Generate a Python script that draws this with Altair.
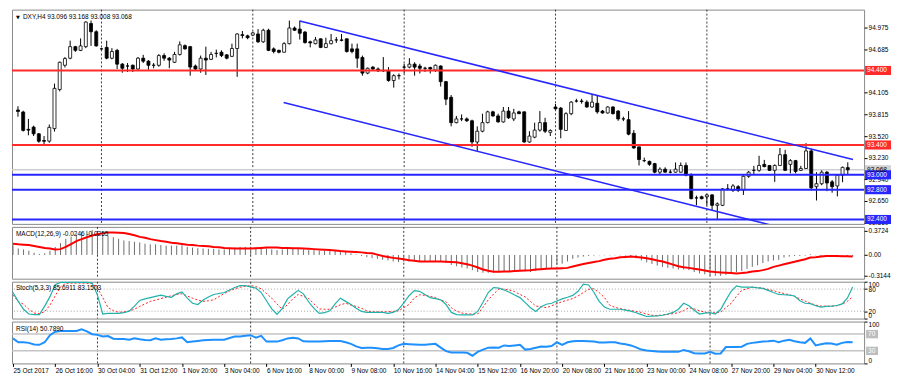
import altair as alt
import pandas as pd

# ---------------- data ----------------
opens = [93.87, 93.843, 93.61, 93.64, 93.55, 93.46, 93.452, 93.62, 94.145, 94.47,
         94.565, 94.72, 94.67, 94.72, 95.03, 94.92, 94.69, 94.71, 94.565, 94.67,
         94.485, 94.46, 94.47, 94.42, 94.565, 94.525, 94.47, 94.47, 94.60, 94.565,
         94.51, 94.615, 94.733, 94.72, 94.46, 94.42, 94.565, 94.55, 94.63, 94.645,
         94.61, 94.59, 94.695, 94.88, 94.865, 94.875, 94.89, 94.785, 94.94, 94.69,
         94.67, 94.645, 94.76, 94.97, 94.955, 94.915, 94.785, 94.76, 94.825, 94.71,
         94.76, 94.81, 94.81, 94.825, 94.69, 94.69, 94.575, 94.365, 94.445, 94.42,
         94.40, 94.395, 94.265, 94.33, 94.445, 94.445, 94.485, 94.46, 94.43, 94.44,
         94.405, 94.46, 94.25, 94.04, 93.70, 93.75, 93.75, 93.725, 93.44, 93.585,
         93.70, 93.845, 93.79, 93.71, 93.855, 93.75, 93.845, 93.845, 93.44, 93.505,
         93.60, 93.70, 93.57, 93.91, 93.895, 93.595, 93.82, 93.99, 93.99, 93.975,
         93.91, 93.96, 93.855, 93.83, 93.91, 93.855, 93.75, 93.74, 93.557, 93.375,
         93.19, 93.18, 93.15, 93.035, 93.075, 93.035, 93.035, 93.035, 93.125, 92.995,
         92.69, 92.705, 92.705, 92.73, 92.59, 92.59, 92.81, 92.79, 92.84, 92.795,
         92.98, 93.06, 93.06, 93.14, 93.125, 93.06, 93.125, 93.27, 93.14, 93.19,
         93.06, 93.085, 93.32, 92.84, 92.88, 93.035, 92.905, 92.85, 92.995, 93.096]
highs = [93.92, 93.86, 93.75, 93.66, 93.56, 93.52, 93.675, 94.224, 94.52, 94.58,
         94.80, 94.73, 94.83, 95.06, 95.07, 94.94, 94.70, 94.80, 94.70, 94.69,
         94.50, 94.50, 94.48, 94.58, 94.61, 94.54, 94.50, 94.62, 94.63, 94.58,
         94.65, 94.79, 94.75, 94.73, 94.48, 94.60, 94.72, 94.65, 94.68, 94.67,
         94.62, 94.76, 94.90, 94.93, 94.88, 94.92, 94.955, 94.96, 94.96, 94.71,
         94.68, 94.78, 95.07, 94.99, 95.07, 94.93, 94.80, 94.85, 94.83, 94.84,
         94.89, 94.85, 94.89, 94.83, 94.76, 94.76, 94.60, 94.44, 94.46, 94.44,
         94.58, 94.445, 94.35, 94.36, 94.49, 94.565, 94.51, 94.49, 94.45, 94.45,
         94.48, 94.47, 94.26, 94.07, 93.79, 93.81, 93.77, 93.74, 93.65, 93.82,
         93.86, 93.86, 93.82, 93.91, 93.91, 93.885, 93.86, 93.85, 93.585, 93.70,
         93.855, 93.765, 93.61, 93.95, 93.91, 93.84, 93.99, 94.02, 94.02, 94.00,
         94.08, 94.065, 93.87, 93.92, 93.92, 93.87, 93.78, 93.855, 93.60, 93.375,
         93.23, 93.19, 93.16, 93.10, 93.10, 93.07, 93.165, 93.165, 93.165, 93.02,
         92.72, 92.72, 92.74, 92.74, 92.63, 92.82, 92.875, 92.875, 92.86, 92.995,
         93.05, 93.12, 93.255, 93.20, 93.13, 93.14, 93.36, 93.335, 93.21, 93.20,
         93.12, 93.425, 93.35, 93.035, 93.06, 93.05, 92.93, 93.01, 93.11, 93.168]
lows = [93.78, 93.58, 93.53, 93.52, 93.43, 93.40, 93.43, 93.58, 94.12, 94.44,
        94.55, 94.65, 94.66, 94.70, 94.73, 94.72, 94.68, 94.55, 94.55, 94.42,
        94.37, 94.38, 94.38, 94.41, 94.50, 94.41, 94.43, 94.45, 94.53, 94.43,
        94.50, 94.60, 94.68, 94.33, 94.40, 94.37, 94.34, 94.54, 94.575, 94.58,
        94.55, 94.58, 94.315, 94.83, 94.82, 94.86, 94.77, 94.77, 94.66, 94.63,
        94.63, 94.64, 94.75, 94.93, 94.815, 94.76, 94.71, 94.75, 94.70, 94.70,
        94.75, 94.77, 94.79, 94.64, 94.63, 94.435, 94.33, 94.35, 94.40, 94.38,
        94.38, 94.25, 94.17, 94.28, 94.36, 94.43, 94.33, 94.36, 94.38, 94.36,
        94.38, 94.185, 93.935, 93.65, 93.69, 93.72, 93.71, 93.375, 93.32, 93.57,
        93.69, 93.78, 93.70, 93.70, 93.75, 93.72, 93.815, 93.43, 93.43, 93.49,
        93.58, 93.56, 93.52, 93.875, 93.49, 93.59, 93.80, 93.97, 93.955, 93.90,
        93.90, 93.82, 93.82, 93.82, 93.81, 93.725, 93.72, 93.53, 93.35, 93.125,
        93.17, 93.12, 93.02, 93.00, 93.03, 93.02, 93.03, 93.03, 92.98, 92.67,
        92.59, 92.67, 92.59, 92.525, 92.405, 92.58, 92.79, 92.77, 92.77, 92.73,
        92.96, 93.01, 93.04, 93.10, 93.05, 92.905, 93.12, 93.05, 93.02, 93.02,
        93.05, 93.08, 92.81, 92.655, 92.86, 92.78, 92.76, 92.71, 92.90, 93.008]
closes = [93.85, 93.596, 93.60, 93.55, 93.45, 93.45, 93.636, 94.16, 94.51, 94.56,
          94.72, 94.67, 94.73, 95.05, 94.92, 94.73, 94.69, 94.565, 94.655, 94.485,
          94.43, 94.46, 94.42, 94.565, 94.525, 94.47, 94.47, 94.60, 94.565, 94.54,
          94.615, 94.745, 94.69, 94.446, 94.42, 94.565, 94.54, 94.615, 94.63, 94.60,
          94.565, 94.695, 94.89, 94.87, 94.84, 94.905, 94.785, 94.94, 94.67, 94.655,
          94.645, 94.76, 94.97, 94.94, 94.90, 94.775, 94.77, 94.81, 94.71, 94.76,
          94.80, 94.81, 94.805, 94.655, 94.655, 94.565, 94.365, 94.43, 94.42, 94.395,
          94.395, 94.265, 94.33, 94.33, 94.445, 94.485, 94.445, 94.43, 94.43, 94.42,
          94.47, 94.25, 94.015, 93.70, 93.75, 93.75, 93.725, 93.44, 93.585, 93.70,
          93.845, 93.79, 93.71, 93.855, 93.765, 93.83, 93.82, 93.44, 93.52, 93.60,
          93.70, 93.585, 93.595, 93.885, 93.61, 93.82, 93.975, 93.99, 93.985, 93.91,
          93.975, 93.845, 93.83, 93.91, 93.82, 93.75, 93.75, 93.545, 93.36, 93.205,
          93.19, 93.14, 93.035, 93.075, 93.035, 93.035, 93.075, 93.125, 92.995, 92.68,
          92.69, 92.68, 92.73, 92.59, 92.61, 92.81, 92.81, 92.85, 92.79, 92.98,
          93.035, 93.06, 93.125, 93.11, 93.06, 93.125, 93.27, 93.06, 93.19, 93.045,
          93.085, 93.32, 92.825, 92.88, 93.035, 92.89, 92.84, 92.995, 93.10, 93.068]

macd_main = [.149, .100, .085, .065, .035, .015, .025, .065, .124, .184,
             .249, .284, .313, .348, .373, .383, .358, .323, .299, .274,
             .249, .224, .214, .204, .194, .174, .164, .164, .154, .144,
             .144, .144, .149, .124, .114, .104, .100, .095, .095, .085,
             .085, .095, .114, .124, .124, .124, .114, .124, .100, .085,
             .075, .085, .100, .104, .100, .085, .075, .075, .065, .065,
             .065, .065, .055, .045, .025, .010, -.015, -.035, -.050, -.060,
             -.075, -.085, -.100, -.109, -.104, -.100, -.100, -.100, -.100, -.100,
             -.100, -.109, -.124, -.154, -.174, -.194, -.209, -.234, -.264, -.274,
             -.274, -.269, -.264, -.259, -.254, -.249, -.239, -.249, -.264, -.249,
             -.224, -.214, -.199, -.149, -.134, -.100, -.060, -.040, -.025, -.015,
             -.010, -.005, -.005, -.005, -.005, -.005, -.010, -.025, -.050, -.085,
             -.114, -.139, -.164, -.184, -.199, -.209, -.224, -.224, -.234, -.264,
             -.284, -.299, -.313, -.323, -.323, -.308, -.289, -.264, -.249, -.214,
             -.184, -.159, -.124, -.100, -.085, -.075, -.040, -.025, -.015, -.015,
             -.010, .010, -.005, -.025, -.025, -.030, -.035, -.030, -.025, -.0246]
macd_signal = [.172, .164, .159, .152, .139, .124, .109, .100, .085, .090,
               .124, .169, .214, .244, .274, .299, .318, .333, .348, .348,
               .343, .338, .323, .303, .279, .264, .244, .229, .214, .204,
               .189, .179, .169, .159, .154, .144, .139, .134, .124, .119,
               .109, .104, .100, .100, .100, .100, .104, .109, .114, .114,
               .114, .109, .109, .104, .104, .100, .095, .090, .085, .080,
               .075, .070, .060, .055, .050, .045, .040, .030, .025, .005,
               -.015, -.030, -.045, -.055, -.065, -.080, -.090, -.100, -.100, -.100,
               -.100, -.100, -.104, -.109, -.114, -.129, -.144, -.164, -.194, -.224,
               -.244, -.259, -.259, -.254, -.254, -.249, -.244, -.239, -.234, -.224,
               -.219, -.214, -.209, -.209, -.204, -.199, -.179, -.159, -.139, -.124,
               -.109, -.095, -.075, -.060, -.050, -.035, -.030, -.025, -.030, -.040,
               -.050, -.065, -.085, -.100, -.124, -.149, -.174, -.189, -.199, -.214,
               -.224, -.239, -.254, -.264, -.269, -.274, -.279, -.284, -.279, -.269,
               -.254, -.249, -.234, -.214, -.184, -.164, -.144, -.124, -.104, -.085,
               -.065, -.040, -.035, -.025, -.015, -.015, -.015, -.020, -.020, -.0255]
stoch_main = [70.6, 46.6, 25.3, 12.4, 10.7, 10.7, 33.8, 59.4, 91.9, 97.9,
              97.9, 97.9, 97.9, 97.9, 97.9, 96.2, 63.7, 12.4, 14.2, 14.2,
              14.2, 15.9, 20.1, 33.8, 49.2, 53.5, 56.9, 60.3, 63.7, 60.3,
              57.7, 67.1, 72.3, 55.2, 41.5, 38.1, 50.1, 58.6, 65.4, 68.0,
              70.6, 77.4, 84.2, 89.4, 89.4, 86.0, 82.5, 70.6, 48.3, 26.1,
              11.6, 27.8, 53.5, 65.4, 76.5, 67.1, 44.9, 27.8, 14.2, 15.9,
              21.0, 39.8, 55.2, 46.6, 38.1, 27.8, 19.3, 16.7, 16.7, 16.7,
              16.7, 14.2, 16.7, 24.4, 42.4, 62.0, 75.7, 74.0, 65.4, 56.9,
              54.3, 50.9, 38.1, 16.7, 10.7, 9.9, 9.9, 9.9, 19.3, 44.1,
              70.6, 84.2, 82.5, 77.4, 71.4, 63.7, 56.9, 43.2, 29.5, 19.3,
              32.1, 38.9, 41.5, 47.5, 53.5, 57.7, 62.9, 74.0, 93.6, 91.1,
              71.4, 46.6, 31.2, 25.3, 25.3, 25.3, 22.7, 20.1, 15.9, 10.7,
              5.6, 6.5, 7.3, 9.0, 12.4, 16.7, 25.3, 41.5, 34.7, 22.7,
              12.4, 15.0, 15.9, 12.4, 24.4, 50.1, 74.0, 88.5, 85.1, 85.1,
              85.1, 83.4, 81.7, 76.5, 70.6, 65.4, 64.6, 63.7, 61.2, 48.3,
              41.5, 40.6, 34.7, 31.2, 33.0, 33.8, 35.5, 39.8, 55.2, 85.69]
stoch_signal = [63.7, 45.8, 38.9, 25.3, 15.0, 13.3, 18.4, 36.4, 62.0, 86.0,
                95.4, 96.2, 96.2, 96.2, 95.4, 95.4, 82.5, 56.9, 29.5, 21.8,
                16.7, 18.4, 20.1, 25.3, 33.0, 39.8, 46.6, 50.1, 54.3, 57.7,
                62.0, 65.4, 67.1, 61.2, 55.2, 50.1, 46.6, 48.3, 50.9, 59.4,
                68.0, 74.8, 80.8, 85.1, 87.7, 89.4, 86.8, 80.8, 68.0, 55.2,
                39.8, 25.3, 38.1, 53.5, 65.4, 60.3, 54.3, 39.8, 26.1, 25.3,
                25.3, 31.2, 37.2, 41.5, 36.4, 33.0, 27.8, 21.0, 18.4, 18.4,
                18.4, 18.4, 19.3, 21.0, 29.5, 38.1, 56.0, 64.6, 62.9, 60.3,
                56.9, 50.1, 45.8, 29.5, 20.1, 15.0, 12.4, 12.4, 12.4, 30.4,
                50.9, 66.3, 80.0, 80.0, 77.4, 73.1, 65.4, 58.6, 46.6, 33.8,
                32.1, 29.5, 34.7, 40.6, 45.8, 50.1, 54.3, 61.2, 70.6, 79.1,
                80.8, 70.6, 56.9, 36.4, 30.4, 27.0, 24.4, 21.8, 19.3, 16.7,
                12.4, 9.0, 8.2, 9.9, 11.6, 13.3, 15.9, 21.8, 29.5, 26.1,
                21.0, 17.6, 15.0, 15.9, 17.6, 29.5, 41.5, 60.3, 76.5, 80.8,
                85.1, 84.2, 82.5, 79.1, 75.7, 71.4, 68.0, 64.6, 60.3, 53.5,
                47.5, 41.5, 36.4, 33.8, 33.8, 33.8, 34.7, 38.9, 46.6, 59.4]
rsi_values = [59.8, 50.6, 50.6, 49.1, 45.2, 44.5, 50.6, 67.5, 75.9, 77.4,
              77.4, 77.4, 77.4, 81.3, 76.7, 69.8, 68.2, 64.4, 65.2, 59.0,
              58.3, 58.3, 56.7, 59.8, 57.5, 56.0, 55.2, 59.8, 56.7, 57.5,
              58.3, 59.8, 62.1, 50.6, 52.1, 53.7, 55.2, 56.0, 56.7, 56.7,
              56.7, 60.6, 64.4, 64.4, 65.9, 67.5, 61.3, 65.9, 52.1, 52.1,
              52.1, 55.2, 59.8, 61.3, 59.8, 52.9, 52.1, 52.1, 52.1, 52.9,
              53.7, 53.7, 53.7, 50.6, 46.8, 40.6, 36.8, 37.6, 37.6, 36.0,
              34.5, 34.5, 36.8, 43.0, 46.8, 46.0, 45.2, 44.5, 44.5, 46.0,
              46.8, 37.6, 29.2, 26.1, 26.1, 26.1, 25.3, 18.4, 27.6, 33.0,
              37.6, 38.3, 37.6, 43.0, 41.4, 43.0, 44.5, 33.0, 34.5, 37.6,
              40.6, 39.9, 41.4, 50.6, 44.5, 50.6, 52.9, 53.7, 53.7, 52.9,
              52.1, 49.8, 49.8, 50.6, 50.6, 47.5, 46.0, 43.0, 38.3, 33.0,
              30.7, 29.9, 28.4, 27.6, 27.6, 27.6, 27.6, 32.2, 29.2, 24.5,
              23.8, 23.8, 27.6, 23.0, 23.8, 39.1, 39.1, 39.1, 39.9, 46.8,
              49.1, 50.6, 52.1, 52.9, 54.4, 50.6, 54.4, 56.7, 52.9, 50.6,
              49.1, 59.8, 43.0, 46.0, 48.3, 47.5, 44.5, 49.1, 51.4, 50.789]

week_starts = [16, 45, 74, 103, 132]
tick_idx = [0, 8, 16, 24, 32, 40, 48, 56, 64, 72, 80, 88, 96, 104, 112, 120, 128, 136, 144, 152]
tick_labels = ["25 Oct 2017", "26 Oct 16:00", "30 Oct 04:00", "31 Oct 12:00", "1 Nov 20:00",
               "3 Nov 04:00", "6 Nov 16:00", "8 Nov 00:00", "9 Nov 08:00", "10 Nov 16:00",
               "14 Nov 04:00", "15 Nov 12:00", "16 Nov 20:00", "20 Nov 08:00", "21 Nov 16:00",
               "23 Nov 00:00", "24 Nov 08:00", "27 Nov 20:00", "29 Nov 04:00", "30 Nov 12:00"]
price_ticks = [94.975, 94.685, 94.105, 93.815, 93.520, 93.230, 92.940, 92.650, 92.360]
red_levels = [94.400, 93.400]
blue_levels = [93.000, 92.800, 92.400]
bid_price = 93.068
trend_start_idx = [54, 50.9]
trend_start_price = [95.065, 93.971]
trend_end_idx = [160, 144.1]
trend_end_price = [93.204, 92.328]
macd_ticks = [0.3724, 0.0, -0.3144]
macd_tick_labels = ["0.3724", "0.00", "-0.3144"]
stoch_ticks = [100, 80, 20, 0]
stoch_levels = [80, 20]
rsi_levels = [70, 30]
main_title = "DXY,H4  93.096 93.168 93.008 93.068"
macd_title = "MACD(12,26,9) -0.0246 -0.0255"
stoch_title = "Stoch(5,3,3) 85.6911 83.1503"
rsi_title = "RSI(14) 50.7890"

# ---------------- layout / style ----------------
W = 855
H_MAIN, H_MACD, H_STOCH, H_RSI = 215, 52, 37, 42
FONT = "Liberation Sans"
FS = 6.5
RED = "#ff2b2b"
BLUE = "#2626ff"
SEP = "#3a3a3a"

bars = pd.DataFrame({"i": list(range(len(closes))), "o": opens, "h": highs, "l": lows,
                     "c": closes, "macd": macd_main, "sig": macd_signal,
                     "k": stoch_main, "d": stoch_signal, "rsi": rsi_values})
weeks = pd.DataFrame({"w": week_starts})

xscale = alt.Scale(domain=[-0.19, 161.17], nice=False, zero=False)


def Xn(f="i"):
    return alt.X(f"{f}:Q", scale=xscale, axis=None, title=None)


x_lab_expr = ("[" + ",".join(f"'{s}'" for s in tick_labels) + "][indexof(["
              + ",".join(str(v) for v in tick_idx) + "], datum.value)]")
x_axis = alt.Axis(orient="bottom", values=tick_idx, labelExpr=x_lab_expr, labelAlign="left",
                  labelFlush=False, labelOverlap=False, tickSize=3, labelPadding=1,
                  domain=False, grid=False, labelFont=FONT, labelFontSize=FS,
                  labelColor="black", tickColor="black", title=None)


def Xb(f="i"):
    return alt.X(f"{f}:Q", scale=xscale, axis=x_axis, title=None)


def right_axis(values, **kw):
    return alt.Axis(orient="right", values=values, tickSize=3, labelPadding=1, domain=False,
                    grid=False, labelFont=FONT, labelFontSize=FS, labelColor="black",
                    tickColor="black", labelOverlap=False, title=None, **kw)


def title_layer(text, x=4, y=6):
    return alt.Chart(pd.DataFrame({"t": [text]})).mark_text(
        align="left", baseline="middle", font=FONT, fontSize=FS, color="black"
    ).encode(x=alt.value(x), y=alt.value(y), text="t:N")


def week_layer(xf):
    return alt.Chart(weeks).mark_rule(color=SEP, strokeDash=[2, 2], strokeWidth=1).encode(x=xf("w"))


# ---------------- main price panel ----------------
main_scale = alt.Scale(domain=[92.341, 95.217], nice=False, zero=False)
main_axis = right_axis(price_ticks, format=".3f", labelFlush=False)


def YM(f):
    return alt.Y(f"{f}:Q", scale=main_scale, axis=main_axis, title=None)


bid_line = alt.Chart(pd.DataFrame({"p": [bid_price]})).mark_rule(
    color="#cfcfcf", strokeWidth=1.5).encode(y=YM("p"))
wick = alt.Chart(bars).mark_rule(color="black", strokeWidth=1).encode(
    x=Xn("i"), y=YM("l"), y2="h:Q")
body = alt.Chart(bars).mark_bar(width=3, stroke="black", strokeWidth=0.8).encode(
    x=Xn("i"), y=YM("o"), y2="c:Q",
    fill=alt.condition("datum.c >= datum.o", alt.value("white"), alt.value("black")))
red_lines = alt.Chart(pd.DataFrame({"p": red_levels})).mark_rule(
    color=RED, strokeWidth=2).encode(y=YM("p"))
blue_lines = alt.Chart(pd.DataFrame({"p": blue_levels})).mark_rule(
    color=BLUE, strokeWidth=2).encode(y=YM("p"))
trend_df = pd.DataFrame({"x1": trend_start_idx, "y1": trend_start_price,
                         "x2": trend_end_idx, "y2": trend_end_price})
trend = alt.Chart(trend_df).mark_rule(color=BLUE, strokeWidth=1.5, clip=True).encode(
    x=Xn("x1"), x2="x2:Q", y=YM("y1"), y2="y2:Q")
tri = alt.Chart(pd.DataFrame({"t": ["▼"]})).mark_text(
    align="left", baseline="middle", font="DejaVu Sans", fontSize=5, color="black"
).encode(x=alt.value(4), y=alt.value(7), text="t:N")

box_vals = [bid_price] + red_levels + blue_levels
box_df = pd.DataFrame({
    "p": box_vals,
    "label": [f"{v:.3f}" for v in box_vals],
    "fill": ["#d2d2d2"] + [RED] * len(red_levels) + [BLUE] * len(blue_levels),
    "tc": ["black"] + ["white"] * (len(red_levels) + len(blue_levels)),
})
box_rect = alt.Chart(box_df).transform_calculate(
    top="datum.p + 0.061", bot="datum.p - 0.061"
).mark_rect().encode(x=alt.value(W + 1), x2=alt.value(W + 27), y=YM("top"), y2="bot:Q",
                     fill=alt.Fill("fill:N", scale=None))
box_text = alt.Chart(box_df).mark_text(
    align="left", baseline="middle", font=FONT, fontSize=FS
).encode(x=alt.value(W + 3), y=YM("p"), text="label:N", color=alt.Color("tc:N", scale=None))

main = alt.layer(week_layer(Xn), bid_line, wick, body, red_lines, blue_lines, trend,
                 tri, title_layer(main_title, x=11, y=7), box_rect, box_text
                 ).properties(width=W, height=H_MAIN)

# ---------------- MACD panel ----------------
macd_scale = alt.Scale(domain=[-0.366, 0.433], nice=False, zero=False)
macd_expr = ("[" + ",".join(f"'{s}'" for s in macd_tick_labels) + "][indexof(["
             + ",".join(str(v) for v in macd_ticks) + "], datum.value)]")
macd_axis = right_axis(macd_ticks, labelExpr=macd_expr, labelFlush=False)


def YMa(f):
    return alt.Y(f"{f}:Q", scale=macd_scale, axis=macd_axis, title=None)


hist = alt.Chart(bars).transform_calculate(zero="0").mark_rule(
    color="#6e6e6e", strokeWidth=1).encode(x=Xn("i"), y=YMa("macd"), y2="zero:Q")
sig_line = alt.Chart(bars).mark_line(color="#ff0000", strokeWidth=2).encode(
    x=Xn("i"), y=YMa("sig"))
macd = alt.layer(week_layer(Xn), hist, sig_line, title_layer(macd_title, y=7)
                 ).properties(width=W, height=H_MACD)

# ---------------- Stochastic panel ----------------
pct_scale = alt.Scale(domain=[0, 100], nice=False, zero=False)
stoch_axis = right_axis(stoch_ticks, labelFlush=True)


def YS(f):
    return alt.Y(f"{f}:Q", scale=pct_scale, axis=stoch_axis, title=None)


st_lv = alt.Chart(pd.DataFrame({"v": stoch_levels})).mark_rule(
    color="#a8a8a8", strokeDash=[1, 2], strokeWidth=1).encode(y=YS("v"))
st_k = alt.Chart(bars).mark_line(color="#20b2aa", strokeWidth=1.2).encode(x=Xn("i"), y=YS("k"))
st_d = alt.Chart(bars).mark_line(color="#ff2020", strokeWidth=1, strokeDash=[2, 2]).encode(
    x=Xn("i"), y=YS("d"))
stoch = alt.layer(week_layer(Xn), st_lv, st_d, st_k, title_layer(stoch_title, y=6)
                  ).properties(width=W, height=H_STOCH)

# ---------------- RSI panel ----------------
rsi_axis = right_axis([100, 0], labelFlush=True)


def YR(f):
    return alt.Y(f"{f}:Q", scale=pct_scale, axis=rsi_axis, title=None)


rs_lv = alt.Chart(pd.DataFrame({"v": rsi_levels})).mark_rule(
    color="#c4c4c4", strokeWidth=1.5).encode(y=YR("v"))
rs_line = alt.Chart(bars).mark_line(color="#1e90ff", strokeWidth=2).encode(x=Xb("i"), y=YR("rsi"))
rs_box_df = pd.DataFrame({"v": rsi_levels, "label": [str(v) for v in rsi_levels]})
rs_box = alt.Chart(rs_box_df).transform_calculate(
    top="datum.v + 10", bot="datum.v - 10"
).mark_rect(color="#bdbdbd").encode(x=alt.value(W + 2), x2=alt.value(W + 14), y=YR("top"), y2="bot:Q")
rs_txt = alt.Chart(rs_box_df).mark_text(
    align="left", baseline="middle", font=FONT, fontSize=FS, color="white"
).encode(x=alt.value(W + 4), y=YR("v"), text="label:N")
rsi_chart = alt.layer(week_layer(Xb), rs_lv, rs_line, title_layer(rsi_title, y=7), rs_box, rs_txt
                      ).properties(width=W, height=H_RSI)

chart = alt.vconcat(main, macd, stoch, rsi_chart, spacing=3, bounds="flush").resolve_scale(
    x="independent", y="independent"
).properties(padding=0, background="white").configure_view(stroke="#8a8a8a", strokeWidth=1)

chart.save("out.html", embed_options={"renderer": "svg", "actions": False})
